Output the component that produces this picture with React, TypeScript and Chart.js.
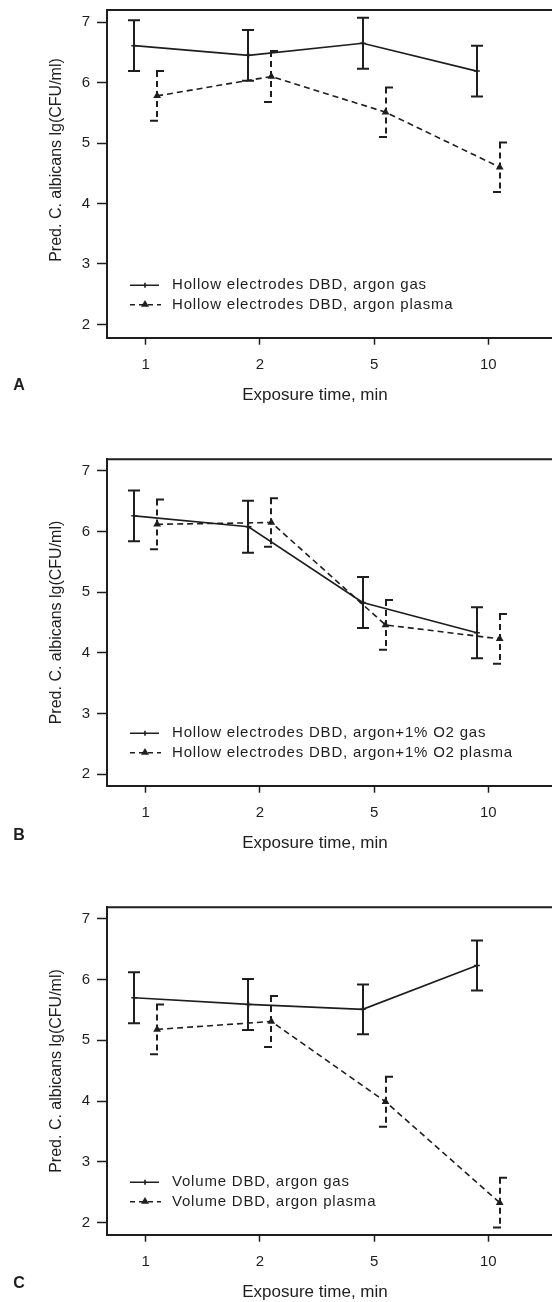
import React, { useEffect, useRef } from "react";
import { Chart, registerables } from "chart.js";

Chart.register(...registerables);

// ---------- data ----------
const CATEGORIES = ["1", "2", "5", "10"];
const CAT_POS = [0, 1, 2, 3];
const Y_TICKS = [2, 3, 4, 5, 6, 7];

const A_GAS = [6.61, 6.45, 6.65, 6.19];
const A_GAS_ERR = [0.42, 0.42, 0.42, 0.42];
const A_PLASMA = [5.78, 6.1, 5.51, 4.6];
const A_PLASMA_ERR = [0.41, 0.42, 0.41, 0.41];

const B_GAS = [6.26, 6.08, 4.83, 4.33];
const B_GAS_ERR = [0.42, 0.43, 0.42, 0.42];
const B_PLASMA = [6.12, 6.15, 4.46, 4.23];
const B_PLASMA_ERR = [0.41, 0.4, 0.41, 0.41];

const C_GAS = [5.7, 5.59, 5.51, 6.23];
const C_GAS_ERR = [0.42, 0.42, 0.41, 0.41];
const C_PLASMA = [5.18, 5.31, 3.99, 2.33];
const C_PLASMA_ERR = [0.41, 0.42, 0.41, 0.41];

const A_LABELS = ["Hollow electrodes DBD, argon gas", "Hollow electrodes DBD, argon plasma"];
const B_LABELS = ["Hollow electrodes DBD, argon+1% O2 gas", "Hollow electrodes DBD, argon+1% O2 plasma"];
const C_LABELS = ["Volume DBD, argon gas", "Volume DBD, argon plasma"];

const X_TITLE = "Exposure time, min";
const Y_TITLE = "Pred. C. albicans lg(CFU/ml)";

// ---------- styling / layout ----------
const INK = "#1e1e1e";
const FONT = "'Liberation Sans', Arial, sans-serif";
const DODGE = 0.1;
const X_MIN = -0.339;
const X_MAX = 3.558;
const W = 552;

type Panel = {
  letter: string;
  labels: string[];
  gas: number[];
  gasErr: number[];
  plasma: number[];
  plasmaErr: number[];
  top: number;
  height: number;
  areaTop: number;
  areaBottom: number;
  yMin: number;
  yMax: number;
  yTitleCenter: number;
  xTitleY: number;
  letterY: number;
};

const PANELS: Panel[] = [
  {
    letter: "A", labels: A_LABELS, gas: A_GAS, gasErr: A_GAS_ERR, plasma: A_PLASMA, plasmaErr: A_PLASMA_ERR,
    top: 0, height: 420, areaTop: 10, areaBottom: 337.7, yMin: 1.78, yMax: 7.2,
    yTitleCenter: 160, xTitleY: 395, letterY: 385.5,
  },
  {
    letter: "B", labels: B_LABELS, gas: B_GAS, gasErr: B_GAS_ERR, plasma: B_PLASMA, plasmaErr: B_PLASMA_ERR,
    top: 420, height: 440, areaTop: 39.3, areaBottom: 365.7, yMin: 1.807, yMax: 7.193,
    yTitleCenter: 202.5, xTitleY: 423, letterY: 416,
  },
  {
    letter: "C", labels: C_LABELS, gas: C_GAS, gasErr: C_GAS_ERR, plasma: C_PLASMA, plasmaErr: C_PLASMA_ERR,
    top: 860, height: 442, areaTop: 47.3, areaBottom: 374.7, yMin: 1.803, yMax: 7.188,
    yTitleCenter: 211, xTitleY: 432.7, letterY: 424,
  },
];

function drawTriangle(ctx: CanvasRenderingContext2D, x: number, y: number, r: number) {
  ctx.beginPath();
  ctx.moveTo(x, y - r);
  ctx.lineTo(x + r * 0.95, y + r * 0.6);
  ctx.lineTo(x - r * 0.95, y + r * 0.6);
  ctx.closePath();
  ctx.fill();
}

const decorPlugin = {
  id: "decor",
  afterDatasetsDraw(chart: any) {
    const ctx: CanvasRenderingContext2D = chart.ctx;
    const yScale = chart.scales.y;
    ctx.save();
    // error bars
    chart.data.datasets.forEach((ds: any, di: number) => {
      const meta = chart.getDatasetMeta(di);
      meta.data.forEach((pt: any, j: number) => {
        const v = ds.data[j].y;
        const e = ds.errors[j];
        const yt = yScale.getPixelForValue(v + e);
        const yb = yScale.getPixelForValue(v - e);
        const x = Math.round(pt.x);
        ctx.strokeStyle = INK;
        ctx.lineWidth = 2;
        if (ds.errDashed) {
          ctx.setLineDash([6, 4]);
          ctx.beginPath();
          ctx.moveTo(x, yt);
          ctx.lineTo(x, yb);
          ctx.stroke();
          ctx.setLineDash([]);
          ctx.beginPath();
          ctx.moveTo(x - 1, yt);
          ctx.lineTo(x + 7, yt);
          ctx.moveTo(x - 7, yb);
          ctx.lineTo(x + 1, yb);
          ctx.stroke();
        } else {
          ctx.beginPath();
          ctx.moveTo(x, yt);
          ctx.lineTo(x, yb);
          ctx.moveTo(x - 6, yt);
          ctx.lineTo(x + 6, yt);
          ctx.moveTo(x - 6, yb);
          ctx.lineTo(x + 6, yb);
          ctx.stroke();
        }
      });
    });
    ctx.restore();
  },
  afterDraw(chart: any) {
    const ctx: CanvasRenderingContext2D = chart.ctx;
    const area = chart.chartArea;
    const panel: Panel = chart.options.plugins.decor.panel;
    ctx.save();
    // top frame line
    ctx.strokeStyle = INK;
    ctx.lineWidth = 2;
    ctx.beginPath();
    ctx.moveTo(area.left - 1, area.top);
    ctx.lineTo(chart.width, area.top);
    ctx.stroke();

    // legend
    const ly1 = area.bottom - 52.5;
    const ly2 = area.bottom - 33;
    const sx0 = 130, sx1 = 159, sc = 145, tx = 172;
    ctx.lineWidth = 1.6;
    ctx.beginPath();
    ctx.moveTo(sx0, ly1);
    ctx.lineTo(sx1, ly1);
    ctx.moveTo(sc, ly1 - 2.5);
    ctx.lineTo(sc, ly1 + 2.5);
    ctx.stroke();
    ctx.setLineDash([5, 4]);
    ctx.beginPath();
    ctx.moveTo(sx0, ly2);
    ctx.lineTo(sx1 + 2, ly2);
    ctx.stroke();
    ctx.setLineDash([]);
    ctx.fillStyle = INK;
    drawTriangle(ctx, sc, ly2 - 0.5, 4.2);

    ctx.fillStyle = INK;
    ctx.font = `15px ${FONT}`;
    (ctx as any).letterSpacing = "0.8px";
    ctx.textAlign = "left";
    ctx.textBaseline = "middle";
    ctx.fillText(panel.labels[0], tx, ly1);
    ctx.fillText(panel.labels[1], tx, ly2);
    (ctx as any).letterSpacing = "0px";

    // x title
    ctx.font = `17px ${FONT}`;
    ctx.textAlign = "center";
    ctx.fillText(X_TITLE, 315, panel.xTitleY);

    // y title
    ctx.save();
    ctx.translate(57, panel.yTitleCenter);
    ctx.rotate(-Math.PI / 2);
    ctx.font = `16px ${FONT}`;
    ctx.fillText(Y_TITLE, 0, 0);
    ctx.restore();

    // panel letter
    ctx.font = `bold 16px ${FONT}`;
    ctx.textAlign = "center";
    ctx.fillText(panel.letter, 19, panel.letterY);
    ctx.restore();
  },
};

function PanelChart({ panel }: { panel: Panel }) {
  const ref = useRef<HTMLCanvasElement | null>(null);
  useEffect(() => {
    if (!ref.current) return;
    const H = panel.height;
    const chart = new Chart(ref.current, {
      type: "line",
      data: {
        datasets: [
          {
            label: panel.labels[0],
            data: panel.gas.map((v, i) => ({ x: CAT_POS[i] - DODGE, y: v })),
            errors: panel.gasErr,
            errDashed: false,
            borderColor: INK,
            borderWidth: 1.7,
            pointStyle: "cross",
            pointRadius: 3,
            pointBorderWidth: 1.5,
            pointBorderColor: INK,
            pointBackgroundColor: INK,
            tension: 0,
            fill: false,
          } as any,
          {
            label: panel.labels[1],
            data: panel.plasma.map((v, i) => ({ x: CAT_POS[i] + DODGE, y: v })),
            errors: panel.plasmaErr,
            errDashed: true,
            borderColor: INK,
            borderWidth: 1.6,
            borderDash: [6, 4],
            pointStyle: "triangle",
            pointRadius: 4.5,
            pointBorderWidth: 0,
            pointBackgroundColor: INK,
            pointBorderColor: INK,
            tension: 0,
            fill: false,
          } as any,
        ],
      },
      options: {
        responsive: false,
        animation: false,
        devicePixelRatio: 1,
        layout: { autoPadding: false, padding: { top: panel.areaTop, left: 0, right: 0, bottom: 0 } },
        plugins: {
          legend: { display: false },
          tooltip: { enabled: false },
          decor: { panel },
        } as any,
        scales: {
          x: {
            type: "linear",
            min: X_MIN,
            max: X_MAX,
            afterBuildTicks: (s: any) => {
              s.ticks = CAT_POS.map((v) => ({ value: v }));
            },
            afterFit: (s: any) => {
              s.height = H - panel.areaBottom;
              s.paddingLeft = 0;
              s.paddingRight = 0;
            },
            ticks: {
              callback: (_v: any, i: number) => CATEGORIES[i],
              font: { family: FONT, size: 15 },
              color: INK,
              padding: 11,
              maxRotation: 0,
              autoSkip: false,
            },
            grid: { drawOnChartArea: false, drawTicks: true, tickLength: 7, tickWidth: 1.5, tickColor: INK },
            border: { display: true, width: 2, color: INK },
          },
          y: {
            type: "linear",
            min: panel.yMin,
            max: panel.yMax,
            afterBuildTicks: (s: any) => {
              s.ticks = Y_TICKS.map((v) => ({ value: v }));
            },
            afterFit: (s: any) => {
              s.width = 107;
              s.paddingTop = 0;
              s.paddingBottom = 0;
            },
            ticks: {
              callback: (v: any) => String(v),
              font: { family: FONT, size: 15 },
              color: INK,
              padding: 7,
            },
            grid: { drawOnChartArea: false, drawTicks: true, tickLength: 10, tickWidth: 1.5, tickColor: INK },
            border: { display: true, width: 2, color: INK },
          },
        },
      } as any,
      plugins: [decorPlugin as any],
    });
    return () => chart.destroy();
  }, [panel]);
  return (
    <canvas
      ref={ref}
      width={W}
      height={panel.height}
      style={{ position: "absolute", left: 0, top: panel.top, width: W, height: panel.height, display: "block" }}
    />
  );
}

export default function App() {
  return (
    <div
      style={{
        position: "absolute",
        left: 0,
        top: 0,
        width: W,
        height: 1302,
        overflow: "hidden",
        background: "#ffffff",
      }}
    >
      {PANELS.map((p) => (
        <PanelChart key={p.letter} panel={p} />
      ))}
    </div>
  );
}
